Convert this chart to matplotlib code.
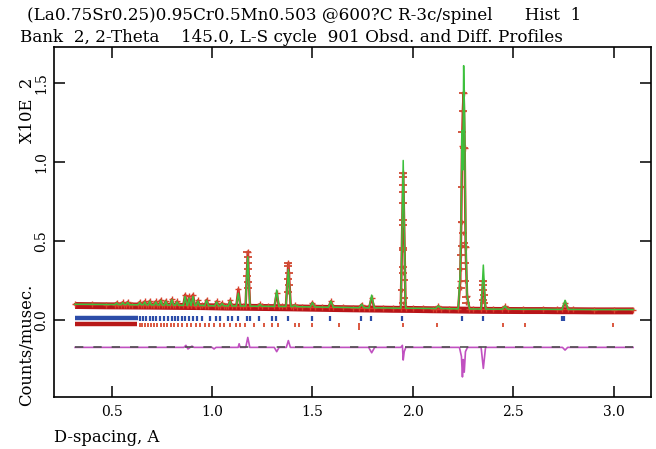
import numpy as np
import matplotlib
matplotlib.use("Agg")
import matplotlib.pyplot as plt

# ---------------- data ----------------
# background (calculated curve between peaks)
bg_d = [0.318, 0.40, 0.47, 0.60, 0.705, 0.78, 0.95, 1.07, 1.155, 1.28, 1.35, 1.45,
        1.55, 1.65, 1.70, 1.85, 1.90, 2.00, 2.05, 2.10, 2.18, 2.30, 2.40, 2.55, 2.65,
        2.72, 2.80, 2.90, 3.00, 3.097]
bg_I = [0.100, 0.099, 0.098, 0.097, 0.096, 0.095, 0.093, 0.090, 0.089, 0.087, 0.086, 0.084,
        0.082, 0.080, 0.079, 0.077, 0.076, 0.075, 0.074, 0.073, 0.072, 0.070, 0.069, 0.068, 0.068,
        0.067, 0.067, 0.066, 0.066, 0.066]

# peaks: position, calculated top, observed top, half width at base, base level
pk_d    = [0.525, 0.555, 0.580, 0.640, 0.665, 0.690, 0.720, 0.745, 0.770, 0.800, 0.826,
           0.866, 0.886, 0.905, 0.930, 0.973, 1.023, 1.050, 1.090, 1.131, 1.178, 1.239,
           1.322, 1.380, 1.412, 1.500, 1.592, 1.745, 1.795, 1.952, 2.127, 2.351, 2.459, 2.758]
pk_calc = [0.108, 0.110, 0.112, 0.112, 0.115, 0.120, 0.115, 0.125, 0.120, 0.130, 0.115,
           0.150, 0.140, 0.150, 0.120, 0.125, 0.115, 0.105, 0.120, 0.170, 0.400, 0.100,
           0.190, 0.320, 0.095, 0.110, 0.120, 0.100, 0.158, 1.010, 0.090, 0.348, 0.088, 0.125]
pk_obs  = [0.110, 0.112, 0.115, 0.115, 0.118, 0.122, 0.118, 0.128, 0.122, 0.132, 0.118,
           0.160, 0.150, 0.160, 0.125, 0.128, 0.118, 0.108, 0.124, 0.195, 0.430, 0.100,
           0.170, 0.360, 0.095, 0.110, 0.118, 0.098, 0.140, 0.930, 0.088, 0.250, 0.086, 0.110]
pk_w    = [0.007, 0.007, 0.007, 0.007, 0.007, 0.007, 0.007, 0.007, 0.007, 0.008, 0.008,
           0.009, 0.008, 0.009, 0.008, 0.009, 0.009, 0.008, 0.009, 0.010, 0.011, 0.008,
           0.011, 0.012, 0.009, 0.011, 0.012, 0.012, 0.013, 0.012, 0.013, 0.011, 0.013, 0.015]
pk_base = [0.098, 0.098, 0.098, 0.097, 0.097, 0.096, 0.096, 0.095, 0.095, 0.095, 0.094,
           0.093, 0.093, 0.093, 0.092, 0.091, 0.090, 0.090, 0.089, 0.089, 0.088, 0.087,
           0.086, 0.086, 0.085, 0.083, 0.081, 0.078, 0.077, 0.075, 0.073, 0.070, 0.069, 0.067]

# strongest reflection cluster near 2.25 A (calculated profile points)
cl_d    = [2.226, 2.236, 2.241, 2.245, 2.249, 2.253, 2.258, 2.263, 2.270, 2.282]
cl_calc = [0.071, 0.300, 0.680, 1.200, 0.950, 1.610, 1.250, 0.550, 0.160, 0.071]
cl_obs  = [0.071, 0.250, 0.620, 1.100, 1.320, 1.440, 1.090, 0.460, 0.150, 0.071]

# observed data points (crosses) on the flanks of the strong peaks
obs_pts_d = [1.949, 1.950, 1.951, 1.949, 1.953, 1.950, 1.952, 1.949, 1.953, 1.951,
             1.950, 1.954, 1.948, 1.955, 1.952,
             2.243, 2.247, 2.246, 2.250, 2.252, 2.255, 2.249, 2.257, 2.244, 2.259,
             2.242, 2.261, 2.240, 2.262, 2.239, 2.264, 2.266,
             2.349, 2.351, 2.350, 2.352, 2.348, 2.353,
             1.176, 1.178, 1.177, 1.180, 1.175, 1.181, 1.179,
             1.378, 1.380, 1.382, 1.379, 1.383, 1.377]
obs_pts_I = [0.930, 0.905, 0.854, 0.810, 0.740, 0.633, 0.600, 0.456, 0.443, 0.335,
             0.297, 0.253, 0.190, 0.139, 0.110,
             0.620, 1.190, 0.840, 1.320, 1.440, 1.090, 0.550, 0.490, 0.470, 0.460,
             0.410, 0.360, 0.320, 0.250, 0.200, 0.146, 0.110,
             0.250, 0.220, 0.190, 0.160, 0.130, 0.105,
             0.430, 0.400, 0.360, 0.320, 0.280, 0.240, 0.200,
             0.360, 0.340, 0.300, 0.260, 0.220, 0.180]

# difference curve (obs - calc, offset)
diff_d = [0.318, 0.86, 0.87, 0.88, 0.90, 0.91, 1.00, 1.01, 1.02, 1.13, 1.135, 1.14,
          1.168, 1.178, 1.188, 1.31, 1.322, 1.334, 1.37, 1.380, 1.39, 1.78, 1.795, 1.81,
          1.94, 1.948, 1.952, 1.957, 1.965, 2.232, 2.242, 2.247, 2.251, 2.256, 2.262, 2.272,
          2.340, 2.351, 2.362, 2.745, 2.758, 2.771, 3.097]
diff_I = [-0.173, -0.173, -0.160, -0.183, -0.165, -0.173, -0.173, -0.183, -0.173, -0.173, -0.150, -0.173,
          -0.173, -0.110, -0.173, -0.173, -0.200, -0.173, -0.173, -0.130, -0.173, -0.173, -0.207, -0.173,
          -0.173, -0.160, -0.253, -0.200, -0.173, -0.173, -0.230, -0.360, -0.250, -0.330, -0.200, -0.173,
          -0.173, -0.306, -0.173, -0.173, -0.190, -0.173, -0.173]

# reflection tick marks
ph1_band = [0.320, 0.630]
ph1_ticks = [0.640, 0.655, 0.670, 0.690, 0.705, 0.720, 0.740, 0.760, 0.780, 0.799,
             0.815, 0.832, 0.849, 0.865, 0.886, 0.906, 0.923, 0.948, 0.990, 1.020,
             1.040, 1.081, 1.098, 1.131, 1.173, 1.189, 1.235, 1.297, 1.318, 1.380,
             1.496, 1.587, 1.740, 1.790, 1.946, 2.245, 2.349, 2.745, 2.752]
ph2_band = [0.320, 0.625]
ph2_ticks = [0.640, 0.650, 0.665, 0.680, 0.695, 0.712, 0.728, 0.745, 0.762, 0.778,
             0.795, 0.812, 0.830, 0.852, 0.875, 0.895, 0.918, 0.940, 0.965, 0.985,
             1.010, 1.040, 1.062, 1.090, 1.118, 1.140, 1.165, 1.210, 1.258, 1.300,
             1.330, 1.413, 1.435, 1.496, 1.634, 1.951, 2.120, 2.449, 2.559, 2.997]
ph2_long = [1.733]

title1 = "(La0.75Sr0.25)0.95Cr0.5Mn0.503 @600?C R-3c/spinel      Hist  1"
title2 = "Bank  2, 2-Theta    145.0, L-S cycle  901 Obsd. and Diff. Profiles"
xticks = [0.5, 1.0, 1.5, 2.0, 2.5, 3.0]
yticks = [0.0, 0.5, 1.0, 1.5]

# ---------------- build the profile polylines ----------------
def build(peak_top, cl_top):
    spans = [(d - w, d + w) for d, w in zip(pk_d, pk_w)] + [(cl_d[0], cl_d[-1])]
    pts = [(d, v) for d, v in zip(bg_d, bg_I)
           if not any(a - 0.003 <= d <= b + 0.003 for a, b in spans)]
    for d, t, w, b in zip(pk_d, peak_top, pk_w, pk_base):
        pts += [(d - w, b), (d, t), (d + w, b)]
    pts += list(zip(cl_d, cl_top))
    pts.sort()
    return [p[0] for p in pts], [p[1] for p in pts]

calc_x, calc_y = build(pk_calc, cl_calc)
obs_x, obs_y = build(pk_obs, cl_obs)

# ---------------- figure ----------------
W, H = 656, 449
fig = plt.figure(figsize=(W / 100, H / 100), dpi=100)
ax = fig.add_axes([54 / W, 1 - 397 / H, (651 - 54) / W, (397 - 47) / H])
ax.set_xlim(0.213, 3.186)
ax.set_ylim(-0.487, 1.728)

serif = "DejaVu Serif"

# observed: dark red noisy band along the background, red profile and crosses
ax.plot(bg_d, [v - 0.008 for v in bg_I], color="#b81418", lw=5.0, solid_capstyle="butt", zorder=2)
ax.plot(obs_x, obs_y, color="#cc2a22", lw=1.8, zorder=2)
ax.plot(obs_x, obs_y, ls="none", marker="+", ms=5, mew=1.0, color="#d8402c", zorder=3)
ax.plot(obs_pts_d, obs_pts_I, ls="none", marker="_", ms=6, mew=1.3, color="#d04a34", zorder=3)
ax.plot(obs_pts_d, obs_pts_I, ls="none", marker="|", ms=3, mew=1.0, color="#d04a34", zorder=3)
# calculated
ax.plot(calc_x, calc_y, color="#3cc03c", lw=1.1, zorder=4)

# reflection markers
ax.plot(ph1_band, [0.011, 0.011], color="#2c4ca8", lw=3.2, solid_capstyle="butt", zorder=2)
ax.vlines(ph1_ticks, -0.006, 0.026, color="#2c4ca8", lw=1.6, zorder=2)
ax.plot(ph2_band, [-0.028, -0.028], color="#b81818", lw=3.2, solid_capstyle="butt", zorder=2)
ax.vlines(ph2_ticks, -0.042, -0.018, color="#d84a30", lw=1.3, zorder=2)
ax.vlines(ph2_long, -0.065, -0.018, color="#d84a30", lw=1.3, zorder=2)

# difference
ax.plot(diff_d, diff_I, color="#c050c0", lw=1.2, zorder=3)
ax.plot([diff_d[0], diff_d[-1]], [-0.173, -0.173], color="#505050", lw=1.2,
        dashes=(5, 6), zorder=4)

# axes styling
for s in ax.spines.values():
    s.set_linewidth(1.2)
ax.set_xticks(xticks)
ax.set_xticklabels([f"{t:.1f}" for t in xticks], family=serif, fontsize=10)
ax.set_yticks(yticks)
ax.set_yticklabels([f"{t:.1f}" for t in yticks], family=serif, fontsize=10,
                   rotation=90, va="center")
ax.tick_params(direction="in", length=8, width=1.1, top=True, right=True,
               labeltop=False, labelright=False)
ax.tick_params(axis="x", pad=6)
ax.tick_params(axis="y", pad=4)

fs = 11.8
fig.text(54 / W, 1 - 437 / H, "D-spacing, A", family=serif, fontsize=fs, va="center", ha="left")
fig.text(27 / W, 1 - 345 / H, "Counts/musec.", family=serif, fontsize=fs, rotation=90,
         va="center", ha="center")
fig.text(27 / W, 1 - 110 / H, "X10E  2", family=serif, fontsize=fs, rotation=90,
         va="center", ha="center")
fig.text(27 / W, 1 - 16 / H, title1, family=serif, fontsize=12.1, va="center", ha="left")
fig.text(20 / W, 1 - 37 / H, title2, family=serif, fontsize=12.1, va="center", ha="left")

fig.savefig("out.png", dpi=100)
